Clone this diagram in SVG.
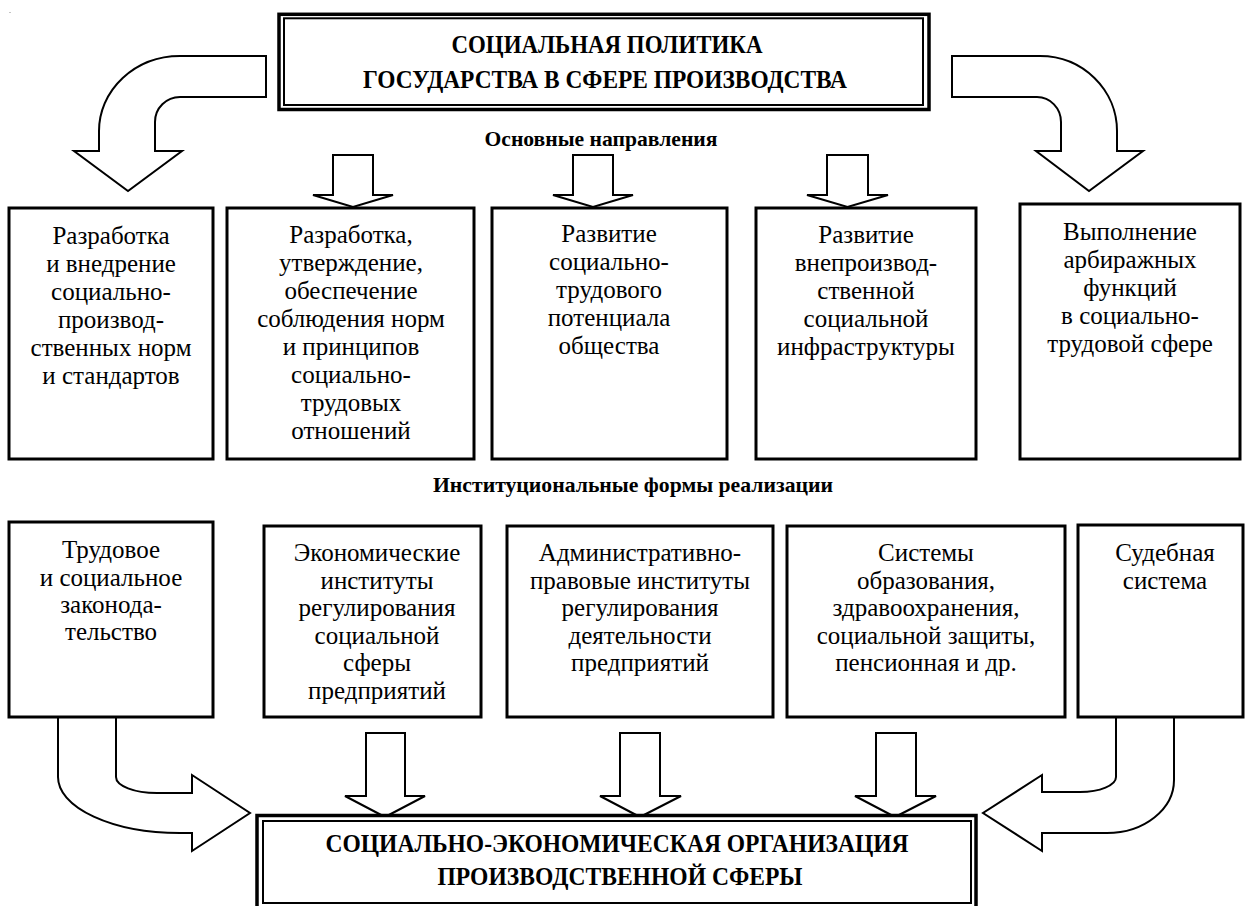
<svg xmlns="http://www.w3.org/2000/svg" width="1246" height="906" viewBox="0 0 1246 906">
<style>
.bg{fill:#fff}
.box{fill:#fff;stroke:#000;stroke-width:3}
.arr{fill:#fff;stroke:#000;stroke-width:2;stroke-linejoin:miter}
.t{font-family:'Liberation Serif','Times New Roman',serif;font-size:25px;fill:#000;text-anchor:middle}
.b{font-family:'Liberation Serif','Times New Roman',serif;font-weight:bold;fill:#000;text-anchor:middle}
.dblo{fill:#fff;stroke:#000;stroke-width:3.5}
.dbli{fill:none;stroke:#000;stroke-width:2}
</style>
<rect class="bg" x="0" y="0" width="1246" height="906"/>
<rect x="9.5" y="12" width="1" height="1" fill="#888"/>

<g id="connectors">
  <path class="arr" d="M266,56 H180 A81,75 0 0 0 99,131 V151 H74 L128,191 L182,151 H155 V122 A25,25 0 0 1 180,97 H266 Z"/>
  <path class="arr" d="M952,56 H1040 A77,75 0 0 1 1117,131 V151 H1143 L1089,191 L1036,151 H1061 V122 A24,25 0 0 0 1037,97 H952 Z"/>
  <path class="arr" d="M333,155 H373 V195 H393 L353,207 L313,195 H333 Z"/>
  <path class="arr" d="M573,155 H613 V195 H633 L593,207 L553,195 H573 Z"/>
  <path class="arr" d="M827,155 H868 V195 H888 L847.5,207 L807,195 H827 Z"/>
  <path class="arr" d="M58,717 V777 A122,56 0 0 0 180,833 H192 V851 L250,813 L192,775 V793 H157 A41,16 0 0 1 116,777 V717 Z"/>
  <path class="arr" d="M1116,717 V777 A36,15 0 0 1 1080,792 H1042 V775 L983,813 L1042,851 V833 H1107 A67,53 0 0 0 1174,780 V717 Z"/>
  <path class="arr" d="M366,733 H405 V796 H425 L385,817 L345,796 H366 Z"/>
  <path class="arr" d="M620,733 H660 V796 H681 L640,817 L600,796 H620 Z"/>
  <path class="arr" d="M876,733 H916 V796 H936 L895,817 L855,796 H876 Z"/>
</g>

<g id="top-node">
  <rect class="dblo" x="279" y="14.3" width="650" height="95.2"/>
  <rect class="dbli" x="284" y="18.3" width="639" height="86.7"/>
  <text class="b" x="607" y="53" font-size="25" textLength="311" lengthAdjust="spacingAndGlyphs">СОЦИАЛЬНАЯ ПОЛИТИКА</text>
  <text class="b" x="605" y="88" font-size="25" textLength="484" lengthAdjust="spacingAndGlyphs">ГОСУДАРСТВА В СФЕРЕ ПРОИЗВОДСТВА</text>
</g>

<g id="label-directions">
  <text class="b" x="601" y="146" font-size="22" textLength="233" lengthAdjust="spacingAndGlyphs">Основные направления</text>
</g>

<g id="dir1">
  <rect class="box" x="9" y="208" width="204" height="251"/>
  <text class="t" x="111"><tspan x="111" y="244">Разработка</tspan><tspan x="111" y="272">и внедрение</tspan><tspan x="111" y="300">социально-</tspan><tspan x="111" y="328">производ-</tspan><tspan x="111" y="356">ственных норм</tspan><tspan x="111" y="384">и стандартов</tspan></text>
</g>
<g id="dir2">
  <rect class="box" x="227" y="208" width="247" height="251"/>
  <text class="t" x="351"><tspan x="351" y="243">Разработка,</tspan><tspan x="351" y="271">утверждение,</tspan><tspan x="351" y="299">обеспечение</tspan><tspan x="351" y="327">соблюдения норм</tspan><tspan x="351" y="355">и принципов</tspan><tspan x="351" y="383">социально-</tspan><tspan x="351" y="411">трудовых</tspan><tspan x="351" y="439">отношений</tspan></text>
</g>
<g id="dir3">
  <rect class="box" x="492" y="208" width="235" height="251"/>
  <text class="t" x="609"><tspan x="609" y="242">Развитие</tspan><tspan x="609" y="270">социально-</tspan><tspan x="609" y="298">трудового</tspan><tspan x="609" y="326">потенциала</tspan><tspan x="609" y="354">общества</tspan></text>
</g>
<g id="dir4">
  <rect class="box" x="756" y="208" width="220" height="251"/>
  <text class="t" x="866"><tspan x="866" y="243">Развитие</tspan><tspan x="866" y="271">внепроизвод-</tspan><tspan x="866" y="299">ственной</tspan><tspan x="866" y="327">социальной</tspan><tspan x="866" y="355">инфраструктуры</tspan></text>
</g>
<g id="dir5">
  <rect class="box" x="1020" y="204" width="220" height="255"/>
  <text class="t" x="1130"><tspan x="1130" y="240">Выполнение</tspan><tspan x="1130" y="268">арбиражных</tspan><tspan x="1130" y="296">функций</tspan><tspan x="1130" y="324">в социально-</tspan><tspan x="1130" y="352">трудовой сфере</tspan></text>
</g>

<g id="label-forms">
  <text class="b" x="633" y="492" font-size="22" textLength="400" lengthAdjust="spacingAndGlyphs">Институциональные формы реализации</text>
</g>

<g id="form1">
  <rect class="box" x="9" y="522" width="204" height="195"/>
  <text class="t" x="111"><tspan x="111" y="558">Трудовое</tspan><tspan x="111" y="586">и социальное</tspan><tspan x="111" y="613">законода-</tspan><tspan x="111" y="640">тельство</tspan></text>
</g>
<g id="form2">
  <rect class="box" x="264" y="526" width="217" height="191"/>
  <text class="t" x="377"><tspan x="377" y="561">Экономические</tspan><tspan x="377" y="589">институты</tspan><tspan x="377" y="616">регулирования</tspan><tspan x="377" y="644">социальной</tspan><tspan x="377" y="671">сферы</tspan><tspan x="377" y="699">предприятий</tspan></text>
</g>
<g id="form3">
  <rect class="box" x="507" y="526" width="266" height="191"/>
  <text class="t" x="640"><tspan x="640" y="561">Административно-</tspan><tspan x="640" y="589">правовые институты</tspan><tspan x="640" y="616">регулирования</tspan><tspan x="640" y="644">деятельности</tspan><tspan x="640" y="671">предприятий</tspan></text>
</g>
<g id="form4">
  <rect class="box" x="787" y="526" width="278" height="191"/>
  <text class="t" x="926"><tspan x="926" y="561">Системы</tspan><tspan x="926" y="589">образования,</tspan><tspan x="926" y="616">здравоохранения,</tspan><tspan x="926" y="644">социальной защиты,</tspan><tspan x="926" y="671">пенсионная и др.</tspan></text>
</g>
<g id="form5">
  <rect class="box" x="1078" y="525" width="165" height="192"/>
  <text class="t" x="1165"><tspan x="1165" y="561">Судебная</tspan><tspan x="1165" y="589">система</tspan></text>
</g>

<g id="bottom-node">
  <rect class="dblo" x="257" y="815.5" width="719" height="100"/>
  <rect class="dbli" x="263" y="821" width="708" height="82"/>
  <text class="b" x="617" y="852" font-size="25" textLength="583" lengthAdjust="spacingAndGlyphs">СОЦИАЛЬНО-ЭКОНОМИЧЕСКАЯ ОРГАНИЗАЦИЯ</text>
  <text class="b" x="620" y="885" font-size="25" textLength="365" lengthAdjust="spacingAndGlyphs">ПРОИЗВОДСТВЕННОЙ СФЕРЫ</text>
</g>
</svg>
